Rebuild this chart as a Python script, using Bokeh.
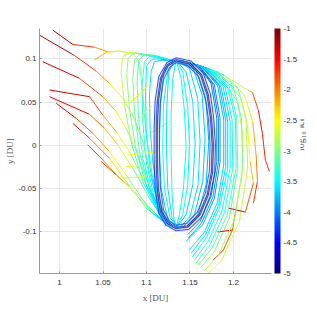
import numpy as np
from bokeh.plotting import figure
from bokeh.models import ColumnDataSource, LinearColorMapper, ColorBar, FixedTicker, LinearAxis
from bokeh.embed import file_html
from bokeh.resources import INLINE

# ---------------- data (DU, log10||c||) ----------------
x_ticks = [1.0, 1.05, 1.1, 1.15, 1.2]
x_tick_labels = ["1", "1.05", "1.1", "1.15", "1.2"]
y_ticks = [-0.1, -0.05, 0.0, 0.05, 0.1]
y_tick_labels = ["-0.1", "-0.05", "0", "0.05", "0.1"]
c_ticks = [-5, -4.5, -4, -3.5, -3, -2.5, -2, -1.5, -1]
c_tick_labels = ["-5", "-4.5", "-4", "-3.5", "-3", "-2.5", "-2", "-1.5", "-1"]
c_title = "log₁₀ ‖c‖"

# converged periodic orbit
orbit_x = [1.1340, 1.1494, 1.1628, 1.1704, 1.1742, 1.1762, 1.1754, 1.1704, 1.1608, 1.1474,
           1.1340, 1.1245, 1.1168, 1.1130, 1.1118, 1.1118, 1.1130, 1.1168, 1.1245, 1.1340]
orbit_y = [0.0985, 0.0947, 0.0812, 0.0581, 0.0312, 0.0004, -0.0305, -0.0574, -0.0805, -0.0940,
           -0.0959, -0.0901, -0.0766, -0.0497, -0.0189, 0.0196, 0.0504, 0.0774, 0.0927, 0.0985]

# last iterates just outside / inside the orbit
near_x = [[1.1340, 1.1513, 1.1654, 1.1735, 1.1773, 1.1792, 1.1785, 1.1731, 1.1631, 1.1486,
           1.1340, 1.1225, 1.1141, 1.1099, 1.1088, 1.1088, 1.1099, 1.1141, 1.1233, 1.1340],
          [1.1340, 1.1474, 1.1601, 1.1674, 1.1712, 1.1731, 1.1723, 1.1677, 1.1585, 1.1463,
           1.1340, 1.1264, 1.1195, 1.1160, 1.1149, 1.1149, 1.1160, 1.1195, 1.1264, 1.1340]]
near_y = [[0.1012, 0.0974, 0.0831, 0.0589, 0.0312, 0.0004, -0.0312, -0.0593, -0.0836, -0.0974,
           -0.0990, -0.0928, -0.0786, -0.0505, -0.0189, 0.0196, 0.0512, 0.0793, 0.0954, 0.1012],
          [0.0958, 0.0920, 0.0793, 0.0562, 0.0304, 0.0004, -0.0297, -0.0555, -0.0774, -0.0905,
           -0.0928, -0.0874, -0.0747, -0.0489, -0.0189, 0.0196, 0.0496, 0.0754, 0.0901, 0.0958]]
near_c = [-4.35, -4.2]

# arcs inside the orbit
inner_x = [[1.1340, 1.1455, 1.1532, 1.1559, 1.1532, 1.1455, 1.1340],
           [1.1340, 1.1532, 1.1639, 1.1674, 1.1647, 1.1551, 1.1417],
           [1.1321, 1.1245, 1.1195, 1.1187, 1.1206, 1.1271, 1.1379],
           [1.1340, 1.1398, 1.1437, 1.1455, 1.1425, 1.1379, 1.1340],
           [1.1340, 1.1494, 1.1589, 1.1616, 1.1593, 1.1501, 1.1379],
           [1.1321, 1.1206, 1.1157, 1.1149, 1.1168, 1.1245, 1.1360],
           [1.1340, 1.1302, 1.1283, 1.1283, 1.1294, 1.1321],
           [1.1340, 1.1570, 1.1685, 1.1716, 1.1685, 1.1589, 1.1455],
           [1.1340, 1.1417, 1.1474, 1.1494, 1.1474, 1.1417, 1.1340],
           [1.1321, 1.1256, 1.1233, 1.1229, 1.1245, 1.1294, 1.1371]]
inner_y = [[0.0985, 0.0850, 0.0504, 0.0004, -0.0459, -0.0805, -0.0959],
           [0.0985, 0.0908, 0.0581, 0.0081, -0.0420, -0.0805, -0.0951],
           [0.0981, 0.0850, 0.0466, -0.0035, -0.0497, -0.0844, -0.0959],
           [0.0985, 0.0774, 0.0389, -0.0035, -0.0497, -0.0805, -0.0959],
           [0.0985, 0.0889, 0.0543, 0.0042, -0.0459, -0.0824, -0.0959],
           [0.0981, 0.0889, 0.0466, -0.0035, -0.0497, -0.0863, -0.0959],
           [0.0985, 0.0774, 0.0350, -0.0112, -0.0574, -0.0921],
           [0.0985, 0.0870, 0.0504, 0.0042, -0.0459, -0.0805, -0.0947],
           [0.0985, 0.0850, 0.0427, 0.0004, -0.0459, -0.0805, -0.0959],
           [0.0981, 0.0850, 0.0427, -0.0035, -0.0497, -0.0844, -0.0959]]
inner_c = [[-3.8, -3.7, -3.6, -3.6, -3.6, -3.7, -3.8],
           [-3.9, -3.8, -3.7, -3.7, -3.7, -3.8, -3.9],
           [-3.7, -3.6, -3.5, -3.5, -3.5, -3.6, -3.7],
           [-3.6, -3.5, -3.5, -3.5, -3.5, -3.5, -3.6],
           [-3.8, -3.7, -3.6, -3.6, -3.6, -3.7, -3.8],
           [-3.9, -3.8, -3.7, -3.7, -3.7, -3.8, -3.9],
           [-3.6, -3.5, -3.4, -3.4, -3.5, -3.6],
           [-4.0, -3.9, -3.8, -3.8, -3.8, -3.9, -4.0],
           [-3.6, -3.5, -3.5, -3.5, -3.5, -3.5, -3.6],
           [-3.7, -3.6, -3.6, -3.6, -3.6, -3.6, -3.7]]

# right-hand fan of arcs
right_x = [[1.1379, 1.1608, 1.1781, 1.1846, 1.1846, 1.1781, 1.1647, 1.1455],
           [1.1398, 1.1647, 1.1857, 1.1934, 1.1934, 1.1838, 1.1685, 1.1528],
           [1.1417, 1.1704, 1.1953, 1.2037, 1.2049, 1.1953, 1.1781, 1.1620],
           [1.1436, 1.1762, 1.2049, 1.2145, 1.2164, 1.2068, 1.1857, 1.1712],
           [1.1455, 1.1838, 1.2171, 1.2217, 1.2286, 1.2332, 1.2367, 1.2413],
           [1.1474, 1.1896, 1.2125, 1.2221, 1.2260, 1.2275, 1.2229],
           [1.1455, 1.1857, 1.2087, 1.2164, 1.2191, 1.2229, 1.2137, 1.1942],
           [1.1436, 1.1819, 1.2049, 1.2106, 1.2099, 1.2030, 1.1988, 1.1815],
           [1.1988, 1.1884, 1.1769],
           [1.1359, 1.1589, 1.1742, 1.1808, 1.1808, 1.1742, 1.1616, 1.1474],
           [1.1386, 1.1628, 1.1819, 1.1888, 1.1888, 1.1812, 1.1666, 1.1494],
           [1.1409, 1.1677, 1.1903, 1.1984, 1.1992, 1.1896, 1.1731, 1.1570],
           [1.1425, 1.1731, 1.1999, 1.2091, 1.2106, 1.2011, 1.1819, 1.1666],
           [1.1371, 1.1601, 1.1762, 1.1827, 1.1827, 1.1762, 1.1632, 1.1482],
           [1.1394, 1.1639, 1.1838, 1.1911, 1.1911, 1.1827, 1.1678, 1.1513],
           [1.1405, 1.1662, 1.1880, 1.1961, 1.1961, 1.1869, 1.1708, 1.1551],
           [1.1417, 1.1693, 1.1930, 1.2022, 1.2030, 1.1926, 1.1754, 1.1593]]
right_y = [[0.0981, 0.0920, 0.0697, 0.0312, -0.0189, -0.0613, -0.0921, -0.1113],
           [0.0978, 0.0908, 0.0677, 0.0273, -0.0266, -0.0728, -0.1075, -0.1294],
           [0.0974, 0.0889, 0.0677, 0.0312, -0.0266, -0.0844, -0.1229, -0.1421],
           [0.0970, 0.0870, 0.0666, 0.0312, -0.0266, -0.0882, -0.1344, -0.1479],
           [0.0966, 0.0843, 0.0635, 0.0612, 0.0404, 0.0138, -0.0174, -0.0305],
           [0.0962, 0.0812, 0.0581, 0.0273, -0.0112, -0.0420, -0.0670],
           [0.0966, 0.0812, 0.0543, 0.0196, -0.0189, -0.0439, -0.0774, -0.0728],
           [0.0966, 0.0812, 0.0504, 0.0119, -0.0343, -0.0728, -0.0982, -0.1005],
           [-0.0982, -0.1213, -0.1329],
           [0.0985, 0.0928, 0.0716, 0.0312, -0.0189, -0.0593, -0.0882, -0.1036],
           [0.0981, 0.0916, 0.0689, 0.0293, -0.0228, -0.0670, -0.1005, -0.1209],
           [0.0978, 0.0897, 0.0677, 0.0293, -0.0266, -0.0786, -0.1151, -0.1363],
           [0.0974, 0.0881, 0.0673, 0.0312, -0.0266, -0.0863, -0.1286, -0.1452],
           [0.0981, 0.0924, 0.0704, 0.0312, -0.0189, -0.0605, -0.0901, -0.1075],
           [0.0978, 0.0912, 0.0685, 0.0281, -0.0247, -0.0697, -0.1036, -0.1252],
           [0.0978, 0.0905, 0.0677, 0.0281, -0.0266, -0.0759, -0.1113, -0.1332],
           [0.0974, 0.0893, 0.0673, 0.0304, -0.0266, -0.0813, -0.1190, -0.1390]]
right_c = [[-4.2, -4.1, -4.0, -3.9, -3.9, -3.9, -3.8, -3.7],
           [-4.0, -3.9, -3.8, -3.7, -3.6, -3.5, -3.5, -3.5],
           [-3.8, -3.6, -3.4, -3.3, -3.2, -3.1, -3.0, -2.9],
           [-3.7, -3.4, -3.1, -2.9, -2.8, -2.7, -2.6, -2.5],
           [-3.6, -3.1, -2.4, -2.0, -1.6, -1.5, -1.8, -1.6],
           [-3.6, -3.0, -2.6, -2.3, -2.1, -1.9, -1.5],
           [-3.6, -3.1, -2.8, -2.6, -2.4, -2.1, -1.6, -1.3],
           [-3.6, -3.2, -2.9, -2.7, -2.5, -2.3, -1.6, -1.3],
           [-2.0, -1.7, -1.5],
           [-4.2, -4.1, -4.0, -4.0, -4.0, -3.9, -3.9, -3.8],
           [-4.0, -3.9, -3.8, -3.8, -3.7, -3.7, -3.6, -3.6],
           [-3.9, -3.7, -3.6, -3.5, -3.4, -3.3, -3.3, -3.2],
           [-3.8, -3.5, -3.3, -3.1, -3.0, -2.9, -2.8, -2.7],
           [-4.2, -4.1, -4.0, -4.0, -3.9, -3.9, -3.8, -3.8],
           [-4.0, -3.9, -3.8, -3.7, -3.7, -3.6, -3.6, -3.5],
           [-3.9, -3.8, -3.7, -3.6, -3.5, -3.4, -3.4, -3.3],
           [-3.8, -3.6, -3.5, -3.4, -3.3, -3.2, -3.1, -3.0]]

# left-hand fan (far initial guesses converging to the orbit)
left_x = [[0.9923, 1.0153, 1.0402, 1.0555, 1.0689, 1.0842, 1.0919, 1.0957, 1.0996, 1.1072, 1.1187, 1.1302],
          [0.9770, 1.0172, 1.0421, 1.0574, 1.0727, 1.0842, 1.0957, 1.1053, 1.1168, 1.1302],
          [0.9808, 1.0230, 1.0498, 1.0651, 1.0766, 1.0900, 1.1034, 1.1187],
          [0.9885, 1.0345, 1.0498, 1.0651, 1.0804, 1.0996, 1.1187],
          [0.9885, 1.0345, 1.0517, 1.0670, 1.0842, 1.1034, 1.1225],
          [0.9962, 1.0191, 1.0383, 1.0574, 1.0766, 1.0996, 1.1245],
          [1.0153, 1.0345, 1.0574, 1.0766, 1.0996, 1.1264],
          [1.0325, 1.0498, 1.0689, 1.0881, 1.1072, 1.1283],
          [1.0479, 1.0651, 1.0804, 1.0957, 1.1110, 1.1302]]
left_y = [[0.1332, 0.1166, 0.1135, 0.1081, 0.1089, 0.1062, 0.0966, 0.0581, 0.0119, -0.0382, -0.0805, -0.0940],
          [0.1274, 0.1039, 0.0858, 0.0716, 0.0543, 0.0350, 0.0042, -0.0382, -0.0767, -0.0940],
          [0.0966, 0.0774, 0.0562, 0.0389, 0.0196, -0.0112, -0.0497, -0.0844],
          [0.0639, 0.0562, 0.0350, 0.0158, -0.0074, -0.0459, -0.0844],
          [0.0562, 0.0358, 0.0196, 0.0004, -0.0266, -0.0613, -0.0901],
          [0.0485, 0.0312, 0.0138, -0.0074, -0.0343, -0.0690, -0.0921],
          [0.0254, 0.0081, -0.0151, -0.0420, -0.0728, -0.0940],
          [0.0004, -0.0170, -0.0382, -0.0574, -0.0786, -0.0951],
          [-0.0189, -0.0343, -0.0478, -0.0632, -0.0805, -0.0959]]
left_c = [[-1.0, -1.5, -1.9, -2.3, -2.5, -2.8, -3.0, -3.2, -3.3, -3.5, -3.8, -4.0],
          [-1.0, -1.5, -1.9, -2.3, -2.6, -2.9, -3.1, -3.4, -3.8, -4.0],
          [-1.1, -1.6, -2.0, -2.4, -2.7, -3.0, -3.3, -3.8],
          [-1.1, -1.6, -2.0, -2.4, -2.8, -3.2, -3.8],
          [-1.2, -1.8, -2.1, -2.5, -2.9, -3.3, -3.9],
          [-1.3, -1.7, -2.0, -2.3, -2.7, -3.2, -3.9],
          [-1.4, -1.8, -2.2, -2.6, -3.2, -4.0],
          [-1.5, -1.9, -2.3, -2.8, -3.3, -4.0],
          [-1.6, -2.0, -2.4, -2.8, -3.3, -4.0]]

# arcs over the top of the orbit, descending on its left
arc_x = [[1.1302, 1.1187, 1.1091, 1.1053, 1.1034, 1.1042, 1.1072, 1.1130, 1.1225],
         [1.1302, 1.1149, 1.1034, 1.0976, 1.0950, 1.0957, 1.0996, 1.1091, 1.1206],
         [1.1302, 1.1110, 1.0919, 1.0862, 1.0842, 1.0862, 1.0919, 1.1034, 1.1187],
         [1.1283, 1.1034, 1.0804, 1.0727, 1.0708, 1.0747, 1.0823, 1.0957, 1.1149],
         [1.1264, 1.0919, 1.0670, 1.0536, 1.0402],
         [1.1302, 1.1168, 1.1064, 1.1003, 1.0988, 1.0996, 1.1034, 1.1110, 1.1217],
         [1.1302, 1.1130, 1.0976, 1.0912, 1.0892, 1.0908, 1.0957, 1.1064, 1.1195],
         [1.1294, 1.1072, 1.0862, 1.0789, 1.0773, 1.0804, 1.0873, 1.0996, 1.1168]]
arc_y = [[0.0978, 0.0985, 0.0966, 0.0850, 0.0581, 0.0196, -0.0189, -0.0574, -0.0882],
         [0.0978, 0.1012, 0.1024, 0.0966, 0.0697, 0.0273, -0.0189, -0.0613, -0.0863],
         [0.0978, 0.1035, 0.1051, 0.0985, 0.0774, 0.0389, -0.0074, -0.0497, -0.0844],
         [0.0978, 0.1043, 0.1074, 0.1024, 0.0850, 0.0466, 0.0042, -0.0420, -0.0805],
         [0.0978, 0.1062, 0.1089, 0.1074, 0.0985],
         [0.0978, 0.0997, 0.0997, 0.0920, 0.0620, 0.0196, -0.0228, -0.0613, -0.0874],
         [0.0978, 0.1024, 0.1043, 0.0985, 0.0735, 0.0312, -0.0151, -0.0555, -0.0851],
         [0.0978, 0.1043, 0.1066, 0.1012, 0.0812, 0.0427, -0.0015, -0.0459, -0.0824]]
arc_c = [[-3.9, -3.8, -3.7, -3.6, -3.6, -3.6, -3.6, -3.7, -3.9],
         [-3.8, -3.6, -3.4, -3.3, -3.3, -3.3, -3.4, -3.5, -3.8],
         [-3.8, -3.4, -3.0, -3.0, -3.0, -3.1, -3.2, -3.4, -3.8],
         [-3.7, -3.2, -2.8, -2.7, -2.7, -2.8, -3.0, -3.3, -3.7],
         [-3.6, -2.9, -2.5, -2.3, -2.1],
         [-3.9, -3.7, -3.5, -3.5, -3.5, -3.5, -3.5, -3.6, -3.9],
         [-3.8, -3.5, -3.2, -3.2, -3.2, -3.2, -3.3, -3.5, -3.8],
         [-3.7, -3.3, -2.9, -2.9, -2.9, -3.0, -3.1, -3.4, -3.8]]

# short connecting segments
cross_x = [[1.0816, 1.1080], [1.1045, 1.1275], [1.0881, 1.1072],
           [1.0785, 1.1110], [1.0758, 1.1072], [1.0727, 1.0996]]
cross_y = [[0.0496, 0.0750], [0.0138, 0.0288], [0.0273, 0.0466],
           [-0.0112, -0.0081], [-0.0247, -0.0228], [-0.0382, -0.0362]]
cross_c = [[-2.5, -2.5], [-2.6, -2.6], [-2.5, -2.5],
           [-2.5, -2.5], [-2.6, -2.6], [-2.7, -2.7]]

# ---------------- styling helpers ----------------
def jet_palette(n=256):
    cols = []
    for i in range(n):
        t = i / (n - 1)
        r = min(max(1.5 - abs(4 * t - 3), 0), 1)
        g = min(max(1.5 - abs(4 * t - 2), 0), 1)
        b = min(max(1.5 - abs(4 * t - 1), 0), 1)
        cols.append("#%02x%02x%02x" % (int(r * 255), int(g * 255), int(b * 255)))
    return cols

JET = jet_palette()
mapper = LinearColorMapper(palette=JET, low=-5, high=-1)


def segments(xs_list, ys_list, cs_list):
    d = dict(x0=[], y0=[], x1=[], y1=[], c=[])
    for xs, ys, cs in zip(xs_list, ys_list, cs_list):
        for i in range(len(xs) - 1):
            d["x0"].append(xs[i]); d["y0"].append(ys[i])
            d["x1"].append(xs[i + 1]); d["y1"].append(ys[i + 1])
            d["c"].append(0.5 * (cs[i] + cs[i + 1]))
    return ColumnDataSource(d)


Y_RANGE = (-0.1485, 0.1351)
p = figure(width=317, height=305, x_range=(0.977, 1.2437), y_range=Y_RANGE,
           output_backend="svg", toolbar_location=None,
           min_border_left=39, min_border_right=46, min_border_top=28, min_border_bottom=32)
p.outline_line_color = None
p.background_fill_color = "white"
p.border_fill_color = "white"

for ax, ticks, labels, name in ((p.xaxis[0], x_ticks, x_tick_labels, "x [DU]"),
                                (p.yaxis[0], y_ticks, y_tick_labels, "y [DU]")):
    ax.ticker = FixedTicker(ticks=ticks)
    ax.major_label_overrides = {t: l for t, l in zip(ticks, labels)}
    ax.major_label_text_font = "Liberation Sans"
    ax.major_label_text_font_size = "8px"
    ax.major_label_text_color = "#333333"
    ax.axis_label = name
    ax.axis_label_text_font = "Liberation Serif"
    ax.axis_label_text_font_style = "normal"
    ax.axis_label_text_font_size = "9px"
    ax.axis_label_text_color = "#555555"
    ax.axis_line_color = "#999999"
    ax.major_tick_line_color = "#999999"
    ax.major_tick_in = 2
    ax.major_tick_out = 0
    ax.minor_tick_line_color = None

p.xaxis[0].major_label_standoff = 6
p.xaxis[0].axis_label_standoff = 5
p.yaxis[0].major_label_standoff = 3
p.yaxis[0].axis_label_standoff = 0

p.grid.grid_line_color = "#e8e8e8"

for xs, ys, cs in ((left_x, left_y, left_c), (arc_x, arc_y, arc_c), (cross_x, cross_y, cross_c),
                   (right_x, right_y, right_c), (inner_x, inner_y, inner_c)):
    p.segment("x0", "y0", "x1", "y1", source=segments(xs, ys, cs), line_width=1,
              line_color={"field": "c", "transform": mapper})

near_src = ColumnDataSource(dict(xs=near_x, ys=near_y, c=near_c))
p.multi_line("xs", "ys", source=near_src, line_width=1.1, line_alpha=0.8,
             line_color={"field": "c", "transform": mapper})
p.line(orbit_x, orbit_y, line_color="#1f49ff", line_width=3, line_alpha=0.55)
p.line(orbit_x, orbit_y, line_color="#00008f", line_width=1.5)
p.line(orbit_x, orbit_y, line_color="#8c8c8c", line_width=1.0)

cb = ColorBar(color_mapper=mapper, width=6, padding=0, margin=0, location=(3, 0),
              ticker=FixedTicker(ticks=c_ticks),
              major_label_overrides={t: l for t, l in zip(c_ticks, c_tick_labels)},
              major_label_text_font="Liberation Sans", major_label_text_font_size="8px",
              major_label_text_color="#333333", label_standoff=3,
              major_tick_line_color=None, bar_line_color=None)
p.add_layout(cb, "right")

# colour-bar title as the single (rotated) label of an extra right-hand axis
mid = 0.5 * (Y_RANGE[0] + Y_RANGE[1])
cax = LinearAxis(ticker=FixedTicker(ticks=[mid]), major_label_overrides={mid: c_title},
                 major_label_orientation=np.pi / 2, major_label_standoff=0,
                 axis_line_color=None, major_tick_line_color=None, minor_tick_line_color=None,
                 major_tick_in=0, major_tick_out=0,
                 major_label_text_font="Liberation Serif", major_label_text_font_size="10px",
                 major_label_text_color="#555555")
p.add_layout(cax, "right")

open("out.html", "w").write(file_html(p, INLINE))
